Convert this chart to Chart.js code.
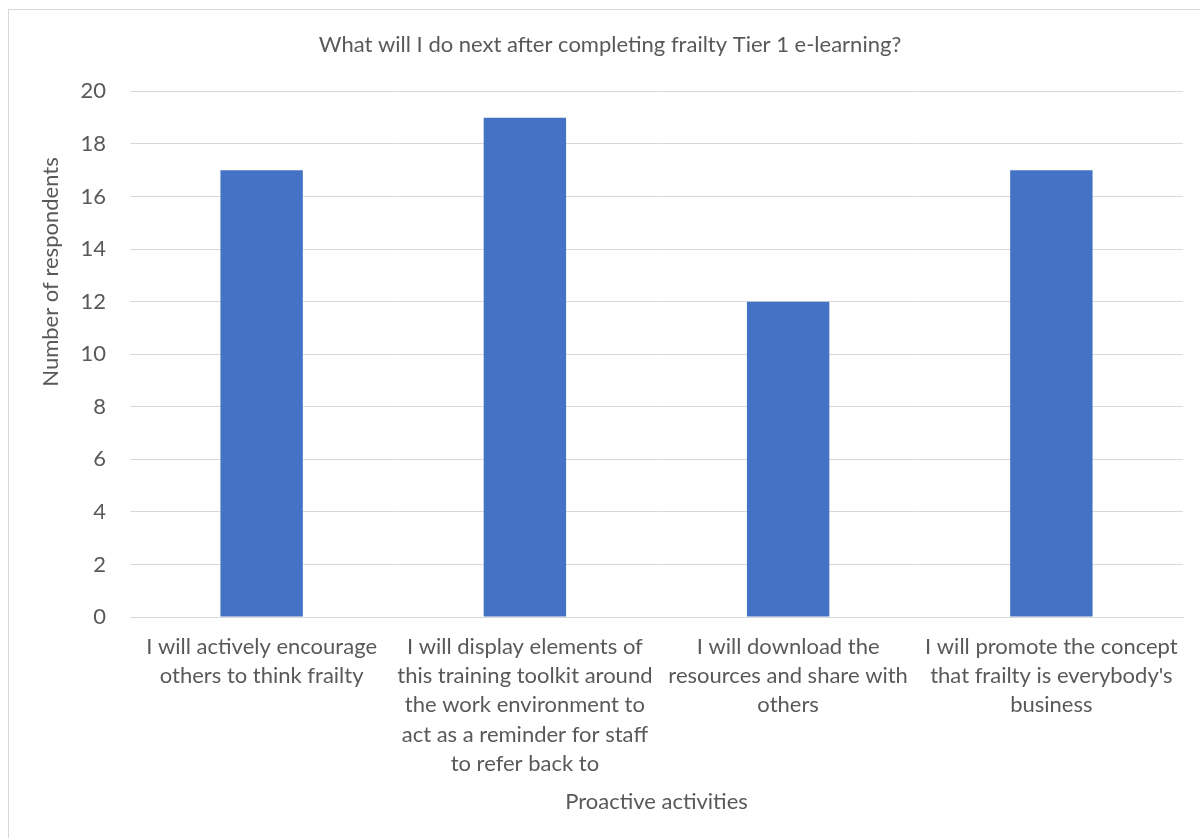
<!DOCTYPE html>
<html>
<head>
<meta charset="utf-8">
<script src="https://cdn.jsdelivr.net/npm/chart.js@4.4.1/dist/chart.umd.min.js"></script>
<style>
  html, body { margin: 0; padding: 0; background: #fff; }
  #wrap { position: relative; width: 1200px; height: 838px; }
  #frame { position: absolute; left: 8px; top: 9px; width: 1300px; height: 900px;
           border: 1px solid #d9d9d9; pointer-events: none; }
</style>
</head>
<body>
<div id="wrap">
  <canvas id="myChart" width="1200" height="838"></canvas>
  <div id="frame"></div>
</div>
<script>
// categories (multi-line tick labels, as wrapped in the picture)
let activities = [
  ["I will actively encourage", "others to think frailty"],
  ["I will display elements of", "this training toolkit around", "the work environment to", "act as a reminder for staff", "to refer back to"],
  ["I will download the", "resources and share with", "others"],
  ["I will promote the concept", "that frailty is everybody's", "business"]
]
let respondents = [17, 19, 12, 17]

let chartTitle = "What will I do next after completing frailty Tier 1 e-learning?"
let xTitle = "Proactive activities"
let yTitle = "Number of respondents"

let grey = '#595959'
let font = 'Lato'

// y-axis title is drawn off-centre in the original, so draw it by hand
const yTitlePlugin = {
  id: 'yTitle',
  afterDraw(chart) {
    const c = chart.ctx
    c.save()
    c.translate(51, 272)
    c.rotate(-Math.PI / 2)
    c.fillStyle = grey
    c.font = '22px ' + font
    c.textAlign = 'center'
    c.textBaseline = 'middle'
    c.fillText(yTitle, 0, 0)
    c.restore()
  }
}

const ctx = document.getElementById('myChart')

let myChart = new Chart(ctx, {
  type: 'bar',
  data: {
    labels: activities,
    datasets: [{
      label: yTitle,
      data: respondents,
      backgroundColor: '#4472C4',
      borderWidth: 0,
      barPercentage: 1,
      categoryPercentage: 0.313
    }]
  },
  options: {
    responsive: false,
    animation: false,
    layout: { padding: { left: 37, right: 17, top: 0, bottom: 0 } },
    plugins: {
      legend: { display: false },
      tooltip: { enabled: false },
      title: {
        display: true,
        text: chartTitle,
        color: grey,
        font: { family: font, size: 22, weight: 'normal' },
        padding: { top: 32, bottom: 33 }
      }
    },
    scales: {
      x: {
        grid: { display: false, drawTicks: false },
        border: { display: true, color: '#d9d9d9', width: 1 },
        ticks: {
          color: grey,
          font: { family: font, size: 22, lineHeight: 1.33 },
          padding: 15,
          maxRotation: 0,
          autoSkip: false
        },
        title: {
          display: true,
          text: xTitle,
          color: grey,
          font: { family: font, size: 22 },
          padding: { top: 0, bottom: 23 }
        },
        afterFit(scale) { scale.height = 221 }
      },
      y: {
        min: 0,
        max: 20,
        grid: { color: '#d9d9d9', lineWidth: 1, drawTicks: false },
        border: { display: false },
        ticks: {
          stepSize: 2,
          color: grey,
          font: { family: font, size: 22 },
          padding: 24
        },
        afterFit(scale) { scale.width = 93 }
      }
    }
  },
  plugins: [yTitlePlugin]
})
</script>
</body>
</html>
